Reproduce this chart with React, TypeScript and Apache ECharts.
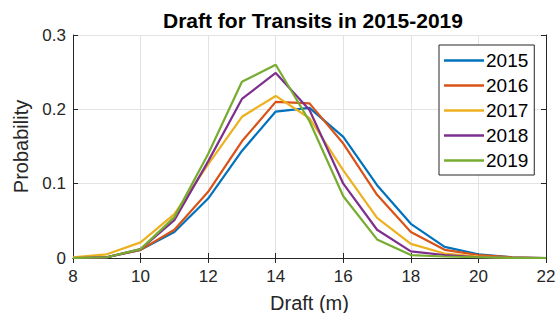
import React, { useEffect, useRef } from "react";
import * as echarts from "echarts";

const drafts = [8, 9, 10, 11, 12, 13, 14, 15, 16, 17, 18, 19, 20, 21, 22];
const years = ["2015", "2016", "2017", "2018", "2019"];
const y2015 = [0.0, 0.001, 0.011, 0.035, 0.080, 0.144, 0.197, 0.202, 0.163, 0.098, 0.046, 0.015, 0.005, 0.001, 0.0];
const y2016 = [0.0, 0.001, 0.011, 0.038, 0.089, 0.157, 0.210, 0.208, 0.154, 0.085, 0.035, 0.011, 0.004, 0.001, 0.0];
const y2017 = [0.001, 0.005, 0.021, 0.059, 0.126, 0.190, 0.218, 0.188, 0.118, 0.054, 0.019, 0.006, 0.002, 0.0, 0.0];
const y2018 = [0.0, 0.001, 0.012, 0.051, 0.130, 0.214, 0.249, 0.199, 0.100, 0.038, 0.009, 0.004, 0.001, 0.0, 0.0];
const y2019 = [0.0, 0.001, 0.012, 0.055, 0.140, 0.237, 0.260, 0.184, 0.083, 0.025, 0.004, 0.002, 0.001, 0.0, 0.0];
const seriesValues = [y2015, y2016, y2017, y2018, y2019];
const colors = ["#0072BD", "#D95319", "#EDB120", "#7E2F8E", "#77AC30"];
const xTicks = [8, 10, 12, 14, 16, 18, 20, 22];
const yTicks = [0, 0.1, 0.2, 0.3];

const FONT = "'Liberation Sans', Arial, Helvetica, sans-serif";
const AX = "#262626";

export default function App() {
  const ref = useRef<HTMLDivElement>(null);
  useEffect(() => {
    if (!ref.current) return;
    const chart = echarts.init(ref.current, undefined, { renderer: "svg" });
    const tickCommon = {
      axisLine: { show: true, lineStyle: { color: AX, width: 1 } },
      axisTick: { show: true, inside: true, length: 5, lineStyle: { color: AX } },
    };
    chart.setOption({
      animation: false,
      backgroundColor: "#ffffff",
      title: {
        text: "Draft for Transits in 2015-2019",
        left: 308,
        textAlign: "center",
        top: 5,
        textStyle: { fontFamily: FONT, fontSize: 21, fontWeight: "bold", color: "#000" },
      },
      grid: { left: 73, right: 10, top: 35, bottom: 55, outerBoundsMode: "none", containLabel: false },
      legend: {
        data: years.map((y) => ({ name: y, icon: "rect" })),
        orient: "vertical",
        left: 439,
        top: 45,
        width: 98,
        padding: [5, 6, 4, 5],
        itemWidth: 40,
        itemHeight: 2.5,
        itemGap: 4,
        backgroundColor: "#fff",
        borderColor: AX,
        borderWidth: 1,
        borderRadius: 0,
        textStyle: {
          fontFamily: FONT,
          fontSize: 19,
          color: "#000",
          lineHeight: 21,
          height: 21,
          padding: [0, 0, 0, -3],
        },
      },
      xAxis: [
        {
          type: "value",
          min: 8,
          max: 22,
          interval: 2,
          name: "Draft (m)",
          nameLocation: "middle",
          nameGap: 35,
          nameTextStyle: { fontFamily: FONT, fontSize: 20, color: AX },
          axisLabel: {
            fontFamily: FONT,
            fontSize: 17,
            color: AX,
            margin: 10,
            formatter: (v: number) => (xTicks.includes(v) ? String(v) : ""),
          },
          splitLine: { show: true, lineStyle: { color: "#e3e3e3", width: 1 } },
          ...tickCommon,
        },
        {
          type: "value",
          position: "top",
          min: 8,
          max: 22,
          interval: 2,
          axisLabel: { show: false },
          splitLine: { show: false },
          ...tickCommon,
        },
      ],
      yAxis: [
        {
          type: "value",
          min: 0,
          max: 0.3,
          interval: 0.1,
          name: "Probability",
          nameLocation: "middle",
          nameGap: 37,
          nameTextStyle: { fontFamily: FONT, fontSize: 20, color: AX },
          axisLabel: {
            fontFamily: FONT,
            fontSize: 17,
            color: AX,
            margin: 7,
            formatter: (v: number) => {
              const t = yTicks.find((k) => Math.abs(k - v) < 1e-9);
              return t === undefined ? "" : t === 0 ? "0" : t.toFixed(1);
            },
          },
          splitLine: { show: true, lineStyle: { color: "#e3e3e3", width: 1 } },
          ...tickCommon,
        },
        {
          type: "value",
          position: "right",
          min: 0,
          max: 0.3,
          interval: 0.1,
          axisLabel: { show: false },
          splitLine: { show: false },
          ...tickCommon,
        },
      ],
      series: years.map((y, i) => ({
        name: y,
        type: "line",
        xAxisIndex: 0,
        yAxisIndex: 0,
        symbol: "none",
        color: colors[i],
        lineStyle: { width: 2.2, color: colors[i] },
        data: drafts.map((d, j) => [d, seriesValues[i][j]]),
      })),
    });
    return () => chart.dispose();
  }, []);
  return <div ref={ref} style={{ width: 556, height: 313, position: "absolute", left: 0, top: 0 }} />;
}
